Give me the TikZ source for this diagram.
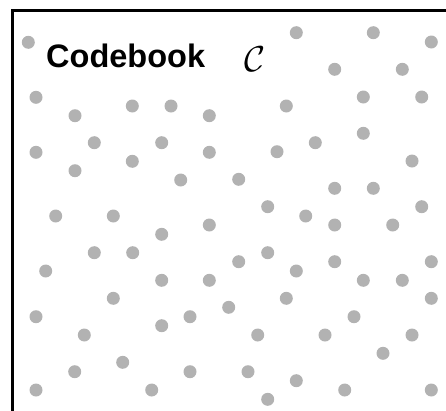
\documentclass[tikz,border=0pt]{standalone}
\usepackage{fontspec}
\usepackage{graphicx}
\setmainfont{Liberation Sans}
\begin{document}
\begin{tikzpicture}[x=1pt,y=-1pt,
  dot/.style={fill=dotgray},
  frame/.style={line width=3pt,line cap=butt}]
\definecolor{dotgray}{RGB}{178,178,178}
\useasboundingbox (0,0) rectangle (446,410);
\draw[frame] (12,411) -- (12,10) -- (447,10);
\node[anchor=base west,inner sep=0pt,font=\fontsize{32.5}{36}\selectfont\bfseries] (title) at (46,67.3) {Codebook};
\node[anchor=base west,inner sep=0pt] (cal) at (244,71.5) {\scalebox{3.6}{$\mathcal{C}$}};
\foreach \x/\y in {
28.3/42.3, 36/97.3, 75/115.7, 132.3/106, 171/106, 209.3/115.7,
36/152.3, 94.3/142.7, 161.7/142.7, 209.3/152.3, 75/170.7, 132.3/161.3, 180.7/180,
296.3/32.7, 373.3/32.7, 431.3/42, 334.7/69.3, 402.3/69.3, 363.3/97, 421.7/97,
286.3/106, 363.3/133.3, 315.3/142.7, 277/151.7, 412/161, 238.7/179.3,
334.7/188.3, 373.3/188.3, 267.7/206.7, 421.7/206.7,
55.7/216, 113.3/216, 209.3/225, 161.7/234.3, 94.3/252.7, 132.7/252.7,
45.7/271, 161.7/280.3, 209.3/280.3, 113.3/298.3, 36/316.7, 190/316.7,
161.7/325.7, 84.3/335, 122.7/362.3, 74.7/371.7, 190/371.7, 36/390, 151.7/390,
305.7/216, 334.7/225, 392.7/225, 238.7/261.7, 267.7/252.7, 296.3/271,
334.7/261.7, 431.3/261.7, 363.3/280.3, 402.3/280.3, 286.3/298.3, 431.3/298.3,
228.7/307.3, 354/316.7, 257.7/335, 325/335, 412/335, 383/353.3, 248/371.7,
296.3/380.7, 344.7/390, 431.3/390, 267.7/399.3}
  \fill[dot] (\x,\y) circle[radius=6.5];
\end{tikzpicture}
\end{document}
